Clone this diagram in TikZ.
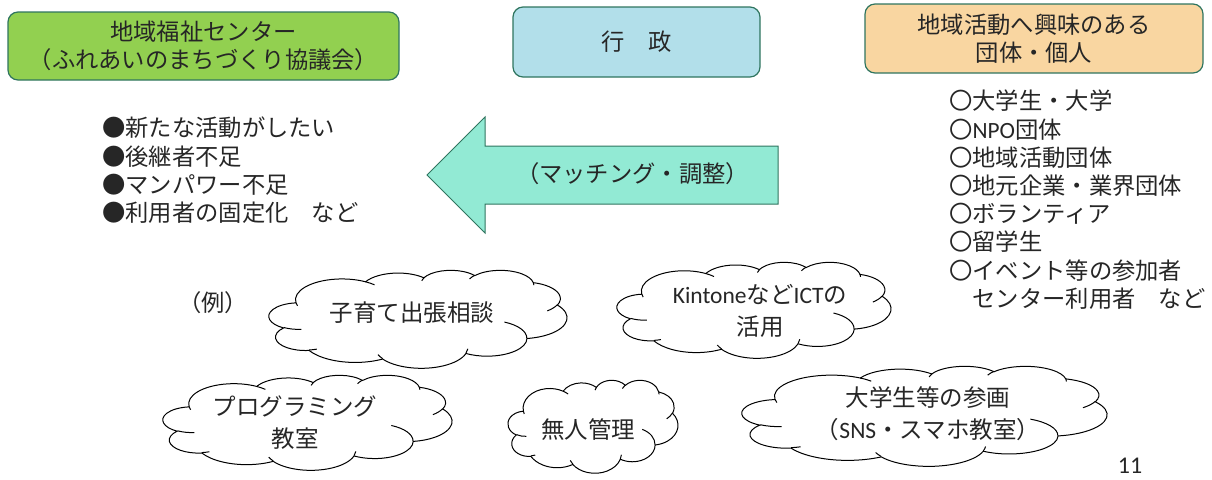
\documentclass[tikz,border=0pt]{standalone}
\usepackage{fontspec}
\setmainfont{Carlito}
\newfontfamily\jp{Noto Sans CJK JP}
\newfontfamily\lat{Carlito}
\definecolor{boxborder}{RGB}{47,117,95}
\definecolor{greenfill}{RGB}{146,208,80}
\definecolor{bluefill}{RGB}{178,223,234}
\definecolor{orangefill}{RGB}{249,214,161}
\definecolor{arrowfill}{RGB}{146,234,212}
\definecolor{txt}{RGB}{38,38,38}
% arc in PowerPoint cloud units (angles in 1/60000 deg, visual angles)
\newcommand\parc[4]{%
 \edef\pS{\fpeval{(#3)/60000}}%
 \edef\pE{\fpeval{(#3+#4)/60000}}%
 \edef\pW{\fpeval{(#4)/60000}}%
 \edef\tS{\fpeval{round(atand(#1*sind(\pS), #2*cosd(\pS)),5)}}%
 \edef\tE{\fpeval{round(atand(#1*sind(\pE), #2*cosd(\pE)),5)}}%
 \edef\dT{\fpeval{\tE-\tS}}%
 \edef\dT{\fpeval{round(\dT+360*round((\pW-\dT)/360),5)}}%
 \edef\aS{\fpeval{-\tS}}\edef\aE{\fpeval{-\tS-\dT}}%
 \edef\rX{\fpeval{#1/10}}\edef\rY{\fpeval{#2/10}}%
 \pgfpatharc{\aS}{\aE}{\rX pt and \rY pt}%
}
\newcommand\pptcloud[4]{% left, top, width, height
 \begin{scope}[shift={(#1,#2)}, xscale=#3/4320, yscale=#4/4320, line width=1pt]
  \pgfsetfillcolor{white}\pgfsetstrokecolor{black}%
  \pgfpathmoveto{\pgfpointxy{390}{1437}}%
  \parc{6753}{9190}{-11429249}{7426832}%
  \parc{5333}{7267}{-8646143}{5396714}%
  \parc{4365}{5945}{-8748475}{5983381}%
  \parc{4857}{6595}{-7859164}{7034504}%
  \parc{5333}{7273}{-4722533}{6541615}%
  \parc{6775}{9220}{-2776035}{7816140}%
  \parc{5785}{7867}{37501}{6842000}%
  \parc{6752}{9215}{1347096}{6910353}%
  \parc{7720}{10543}{3974558}{4542661}%
  \parc{4360}{5918}{-16496525}{8804134}%
  \parc{4345}{5945}{-14809710}{9151131}%
  \pgfpathclose
  \pgfusepath{fill,stroke}%
  \pgfpathmoveto{\pgfpointxy{469.3}{2617.7}}\parc{4345}{5945}{5204520}{1585770}%
  \pgfpathmoveto{\pgfpointxy{692.8}{3489.9}}\parc{4360}{5918}{4416628}{686848}%
  \pgfpathmoveto{\pgfpointxy{1647.8}{3909.0}}\parc{6752}{9215}{8257449}{844866}%
  \pgfpathmoveto{\pgfpointxy{2882.7}{3475.1}}\parc{6752}{9215}{387196}{959901}%
  \pgfpathmoveto{\pgfpointxy{3412.9}{2295.4}}\parc{5785}{7867}{-4217541}{4255042}%
  \pgfpathmoveto{\pgfpointxy{4179.8}{1535.4}}\parc{5333}{7273}{1819082}{1665090}%
  \pgfpathmoveto{\pgfpointxy{3832.4}{542.6}}\parc{4857}{6595}{-824660}{891534}%
  \pgfpathmoveto{\pgfpointxy{2907.8}{395.2}}\parc{4857}{6595}{-8950887}{1091722}%
  \pgfpathmoveto{\pgfpointxy{2214.1}{472.0}}\parc{4365}{5945}{-9809656}{1045380}%
  \pgfpathmoveto{\pgfpointxy{1400.0}{519.2}}\parc{6753}{9190}{-4002417}{739161}%
  \pgfpathmoveto{\pgfpointxy{412.7}{1578.9}}\parc{6753}{9190}{9459261}{711490}%
  \pgfusepath{stroke}%
 \end{scope}
}
\tikzset{
  topbox/.style={draw=boxborder, line width=1.2pt, rounded corners=10pt, align=center, text=txt,
     font=\jp\fontsize{23.3}{28.5}\selectfont, inner sep=0pt},
  listtext/.style={align=left, anchor=north west, text=txt, font=\jp\fontsize{23.3}{28.2}\selectfont, inner sep=0pt},
  cloudtext/.style={align=center, text=txt, font=\jp\fontsize{23.5}{32}\selectfont, inner sep=0pt},
  plaintext/.style={text=txt, font=\jp\fontsize{23.3}{28}\selectfont, inner sep=0pt},
}
\begin{document}
\begin{tikzpicture}[x=1pt,y=-1pt]
\useasboundingbox (0,0) rectangle (1212,479);
\clip (0,0) rectangle (1212,479);

% top boxes
\node[topbox, fill=greenfill, minimum width=391pt, minimum height=68pt] (welfare) at (203.5,46)
  {地域福祉センター\\（ふれあいのまちづくり協議会）};
\node[topbox, fill=bluefill, minimum width=247pt, minimum height=70pt] (gov) at (636.5,42)
  {行　政};
\node[topbox, fill=orangefill, minimum width=338pt, minimum height=69pt] (group) at (1034,38.5)
  {地域活動へ興味のある\\団体・個人};

% left list
\node[listtext] (needs) at (102,117)
  {●新たな活動がしたい\\●後継者不足\\●マンパワー不足\\●利用者の固定化　など};

% right list
\node[listtext] (members) at (949,90)
  {〇大学生・大学\\〇{\lat NPO}団体\\〇地域活動団体\\〇地元企業・業界団体\\〇ボランティア\\〇留学生\\〇イベント等の参加者\\　センター利用者　など};

% arrow
\coordinate (tip) at (427,175);
\coordinate (tail) at (778,175);
\draw[fill=arrowfill, draw=boxborder, line width=1pt]
  (tip) -- (485,117) -- (485,146) -- (778,146) -- (778,204) -- (485,204) -- (485,233) -- cycle;
\node[plaintext] (match) at (632.5,174) {（マッチング・調整）};

% example label
\node[plaintext] (ex) at (213,303) {（例）};

% clouds
\pptcloud{269}{270}{298}{98}
\node[cloudtext] (t1) at (412,313) {子育て出張相談};

\pptcloud{617}{262}{274}{96}
\node[cloudtext] (t2) at (760,311) {{\lat Kintone}など{\lat ICT}の\\活用};

\pptcloud{163}{375}{289}{95}
\node[cloudtext] (t3) at (295,423) {プログラミング\\教室};

\pptcloud{508}{380}{170}{93}
\node[cloudtext] (t4) at (588,430) {無人管理};

\pptcloud{742}{366}{365}{100}
\node[cloudtext] (t5) at (928,414) {大学生等の参画\\（{\lat SNS}・スマホ教室）};

% page number
\node[font=\lat\fontsize{24}{26}\selectfont, text=txt, anchor=south, inner sep=0pt] (pg) at (1130,474) {11};
\end{tikzpicture}
\end{document}
